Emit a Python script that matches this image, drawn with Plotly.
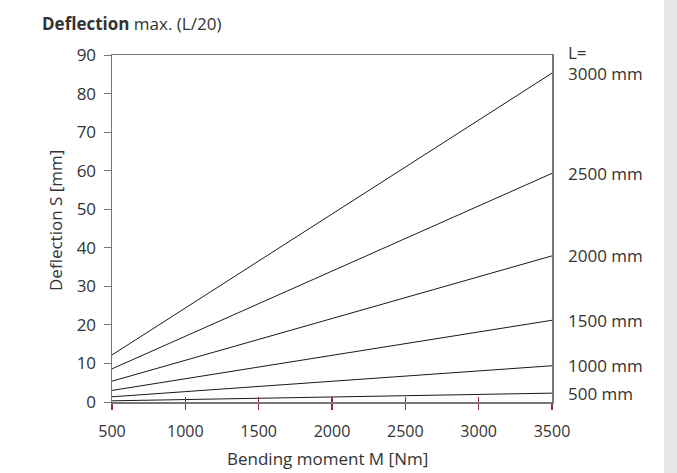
import plotly.graph_objects as go

# Data
moment = [500, 3500]  # Bending moment M [Nm]
lengths = ["500 mm", "1000 mm", "1500 mm", "2000 mm", "2500 mm", "3000 mm"]
defl_500mm = [0.3, 2.3]
defl_1000mm = [1.35, 9.4]
defl_1500mm = [3.0, 21.2]
defl_2000mm = [5.4, 37.9]
defl_2500mm = [8.6, 59.3]
defl_3000mm = [12.2, 85.3]
series = [defl_500mm, defl_1000mm, defl_1500mm, defl_2000mm, defl_2500mm, defl_3000mm]

x_ticks = [500, 1000, 1500, 2000, 2500, 3000, 3500]
y_ticks = [0, 10, 20, 30, 40, 50, 60, 70, 80, 90]

FONT = "Open Sans"
TXT = "#333333"
AX = "#777777"
MAROON = "#8a2a55"

fig = go.Figure()
for name, vals in zip(lengths, series):
    fig.add_trace(go.Scatter(x=moment, y=vals, mode="lines", name=name,
                             line=dict(color="#1a1a1a", width=1), showlegend=False,
                             cliponaxis=False, hoverinfo="skip"))

# dummy trace for secondary x axis (inside tick part)
fig.add_trace(go.Scatter(x=moment, y=[None, None], xaxis="x2", showlegend=False, hoverinfo="skip"))

annotations = []
for name, vals in zip(lengths, series):
    annotations.append(dict(x=moment[-1], y=vals[-1], xref="x", yref="y", text=name,
                            showarrow=False, xanchor="left", yanchor="middle", xshift=14,
                            font=dict(family=FONT, size=17, color=TXT)))
annotations.append(dict(x=moment[-1], y=series[-1][-1], xref="x", yref="y", text="L=",
                        showarrow=False, xanchor="left", yanchor="middle", xshift=14, yshift=21,
                        font=dict(family=FONT, size=17, color=TXT)))
annotations.append(dict(x=0, y=1, xref="paper", yref="paper", xanchor="left", yanchor="middle",
                        xshift=-72, yshift=32, showarrow=False,
                        text="<b>Deflection</b> max. (L/20)",
                        font=dict(family=FONT, size=17, color=TXT)))
annotations.append(dict(x=0, y=0.5216, xref="paper", yref="paper", xanchor="center", yanchor="middle",
                        xshift=-57, showarrow=False, textangle=-90, text="Deflection S [mm]",
                        font=dict(family=FONT, size=17, color=TXT)))
annotations.append(dict(x=0.489, y=0, xref="paper", yref="paper", xanchor="center", yanchor="middle",
                        yshift=-56, showarrow=False, text="Bending moment M [Nm]",
                        font=dict(family=FONT, size=17, color=TXT)))

fig.update_layout(
    width=677, height=473,
    margin=dict(l=112, r=125, t=55, b=71),
    paper_bgcolor="white", plot_bgcolor="white",
    font=dict(family=FONT, size=16, color=TXT),
    hovermode=False,
    xaxis=dict(range=[500, 3500], tickvals=x_ticks, ticks="outside", ticklen=6,
               tickcolor=MAROON, tickwidth=1.5, showgrid=False, zeroline=False,
               showline=True, linecolor=AX, linewidth=1.5, mirror=True,
               tickfont=dict(family=FONT, size=16, color=TXT), ticklabelstandoff=8),
    xaxis2=dict(range=[500, 3500], overlaying="x", side="bottom", matches="x",
                tickvals=[1000, 1500, 2000, 2500, 3000], ticks="inside", ticklen=5,
                tickcolor=MAROON, tickwidth=1.5, showticklabels=False, showgrid=False,
                zeroline=False, showline=False),
    yaxis=dict(range=[0, 90], tickvals=y_ticks, ticks="outside", ticklen=7,
               tickcolor=AX, tickwidth=1, showgrid=False, zeroline=False,
               showline=True, linecolor=AX, linewidth=1.5, mirror=True,
               tickfont=dict(family=FONT, size=17, color=TXT), ticklabelstandoff=4),
    annotations=annotations,
    shapes=[dict(type="rect", xref="paper", yref="paper", x0=1.2545, x1=1.4, y0=-0.4, y1=1.4,
                 fillcolor="#e6e6e8", line=dict(width=0), layer="above")],
)

fig.write_html("out.html", config={"displayModeBar": False, "staticPlot": True},
               post_script="document.body.style.margin='0';")
